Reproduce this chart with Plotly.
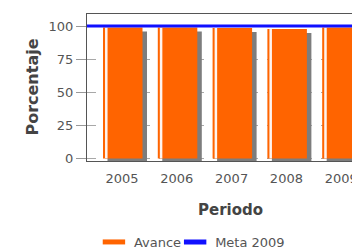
import plotly.graph_objects as go

periods = ["2005", "2006", "2007", "2008", "2009"]
avance = [98.9, 98.8, 98.5, 97.7, 98.8]
meta_2009 = 100
y_ticks = [0, 25, 50, 75, 100]

ORANGE = "#ff6400"
BLUE = "#1010ff"
FONT = "DejaVu Sans"

fig = go.Figure()

# shadow bar (grey, offset right and down)
fig.add_trace(go.Bar(x=periods, y=avance, base=-3, offset=-0.265, width=0.721,
                     marker=dict(color="#7d7d7d", line=dict(width=0)),
                     showlegend=False, hoverinfo="skip"))
# main bar
fig.add_trace(go.Bar(x=periods, y=avance, offset=-0.347, width=0.721,
                     marker=dict(color=ORANGE, line=dict(width=0)),
                     name="Avance", showlegend=False))
# highlight stripe
fig.add_trace(go.Bar(x=periods, y=avance, offset=-0.310, width=0.046,
                     marker=dict(color="#fff4ee", line=dict(width=0)),
                     showlegend=False, hoverinfo="skip"))
# goal line across full width
fig.add_trace(go.Scatter(x=[0, 1], y=[meta_2009, meta_2009], xaxis="x2", mode="lines",
                         line=dict(color=BLUE, width=3), showlegend=False,
                         name="Meta 2009"))
# legend entries
fig.add_trace(go.Scatter(x=[None], y=[None], mode="markers", name="Avance",
                         legend="legend",
                         marker=dict(symbol="line-ew", size=16,
                                     line=dict(color=ORANGE, width=5))))
fig.add_trace(go.Scatter(x=[None], y=[None], mode="markers", name="Meta 2009",
                         legend="legend2",
                         marker=dict(symbol="line-ew", size=16,
                                     line=dict(color=BLUE, width=5))))

leg_common = dict(orientation="h", xanchor="left", y=-0.653, yanchor="bottom",
                  yref="paper", bgcolor="rgba(0,0,0,0)",
                  font=dict(size=13, color="#555555"), itemclick=False)

fig.update_layout(
    width=369, height=251,
    margin=dict(l=79, r=1, t=6, b=98, autoexpand=False),
    paper_bgcolor="white", plot_bgcolor="white",
    barmode="overlay",
    font=dict(family=FONT, size=13, color="#555555"),
    xaxis=dict(type="category", range=[-0.639, 4.635],
               showline=True, linecolor="#555555", linewidth=1, mirror=True,
               showgrid=False, ticks="", ticklabelstandoff=5,
               tickfont=dict(size=13, color="#555555")),
    xaxis2=dict(overlaying="x", range=[0, 1], visible=False),
    yaxis=dict(range=[-1.9, 109.06], tickvals=y_ticks,
               showline=True, linecolor="#555555", linewidth=1,
               showgrid=True, gridcolor="#a8a8a8", griddash="dash", gridwidth=1,
               zeroline=False,
               ticks="outside", ticklen=10, tickcolor="#999999",
               tickfont=dict(size=13, color="#555555")),
    showlegend=True,
    legend=dict(x=0.024, **leg_common),
    legend2=dict(x=0.305, **leg_common),
    annotations=[
        dict(text="<b>Periodo</b>", xref="paper", yref="paper", x=0.495, y=-0.333,
             xanchor="center", yanchor="middle", showarrow=False,
             font=dict(size=15, color="#444444")),
        dict(text="<b>Porcentaje</b>", xref="paper", yref="paper", x=-0.19, y=0.5,
             xanchor="center", yanchor="middle", textangle=-90, showarrow=False,
             font=dict(size=16, color="#444444")),
    ],
)

fig.write_html("out.html")
